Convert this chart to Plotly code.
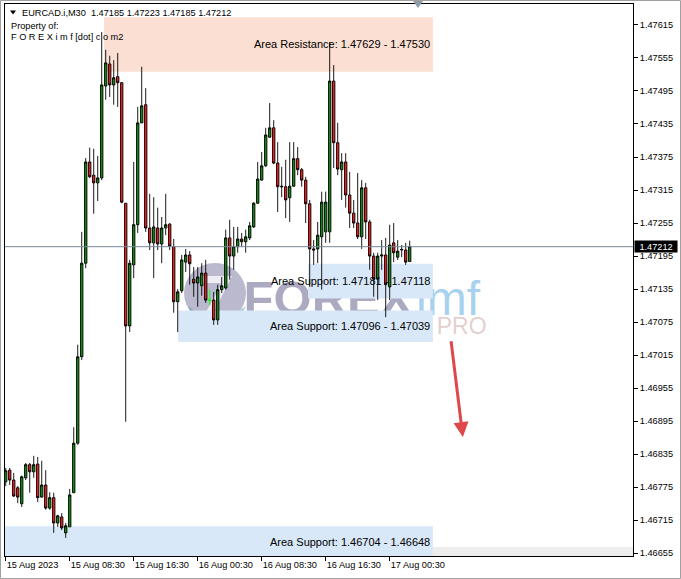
import plotly.graph_objects as go

# ---------------- data ----------------
symbol = "EURCAD.i,M30"

opens = [1.46785, 1.46806, 1.46788, 1.46774, 1.46745, 1.46792, 1.46816, 1.46803, 1.46817, 1.46757,
         1.46779, 1.46737, 1.46756, 1.46710, 1.46721, 1.46692, 1.46703, 1.46765, 1.46855, 1.47012,
         1.47182, 1.47366, 1.47342, 1.47328, 1.47337, 1.47504, 1.47544, 1.47506, 1.47521, 1.47510,
         1.47291, 1.47068, 1.47179, 1.47252, 1.47437, 1.47470, 1.47246, 1.47219, 1.47246, 1.47217,
         1.47246, 1.47253, 1.47212, 1.47112, 1.47132, 1.47184, 1.47197, 1.47153, 1.47146, 1.47141,
         1.47164, 1.47115, 1.47115, 1.47079, 1.47134, 1.47137, 1.47228, 1.47195, 1.47212, 1.47226,
         1.47221, 1.47228, 1.47248, 1.47291, 1.47333, 1.47359, 1.47411, 1.47428, 1.47364, 1.47322,
         1.47321, 1.47301, 1.47322, 1.47372, 1.47352, 1.47333, 1.47290, 1.47208, 1.47208, 1.47230,
         1.47239, 1.47239, 1.47513, 1.47401, 1.47352, 1.47366, 1.47306, 1.47273, 1.47255, 1.47230,
         1.47319, 1.47257, 1.47195, 1.47153, 1.47195, 1.47197, 1.47139, 1.47219, 1.47193, 1.47206,
         1.47206, 1.47185]
highs = [1.46810, 1.46810, 1.46801, 1.46777, 1.46796, 1.46819, 1.46819, 1.46832, 1.46830, 1.46823,
         1.46806, 1.46766, 1.46765, 1.46725, 1.46728, 1.46710, 1.46772, 1.46884, 1.47034, 1.47239,
         1.47373, 1.47392, 1.47390, 1.47377, 1.47602, 1.47570, 1.47559, 1.47551, 1.47564, 1.47511,
         1.47291, 1.47188, 1.47366, 1.47466, 1.47539, 1.47500, 1.47308, 1.47302, 1.47283, 1.47266,
         1.47308, 1.47255, 1.47226, 1.47135, 1.47197, 1.47208, 1.47204, 1.47175, 1.47175, 1.47182,
         1.47188, 1.47134, 1.47130, 1.47143, 1.47157, 1.47243, 1.47261, 1.47248, 1.47248, 1.47237,
         1.47243, 1.47257, 1.47293, 1.47366, 1.47384, 1.47428, 1.47473, 1.47442, 1.47402, 1.47357,
         1.47370, 1.47402, 1.47402, 1.47393, 1.47355, 1.47339, 1.47297, 1.47224, 1.47257, 1.47312,
         1.47312, 1.47584, 1.47542, 1.47437, 1.47382, 1.47382, 1.47348, 1.47297, 1.47346, 1.47333,
         1.47328, 1.47261, 1.47201, 1.47201, 1.47224, 1.47228, 1.47252, 1.47255, 1.47224, 1.47215,
         1.47219, 1.47223]
lows = [1.46777, 1.46779, 1.46757, 1.46746, 1.46739, 1.46788, 1.46765, 1.46792, 1.46748, 1.46756,
        1.46734, 1.46734, 1.46692, 1.46703, 1.46697, 1.46683, 1.46703, 1.46765, 1.46852, 1.47006,
        1.47173, 1.47337, 1.47272, 1.47295, 1.47333, 1.47479, 1.47484, 1.47470, 1.47466, 1.47291,
        1.46894, 1.47057, 1.47155, 1.47237, 1.47437, 1.47239, 1.47206, 1.47155, 1.47206, 1.47182,
        1.47233, 1.47206, 1.47092, 1.47057, 1.47128, 1.47166, 1.47143, 1.47121, 1.47103, 1.47123,
        1.47110, 1.47106, 1.47070, 1.47070, 1.47128, 1.47134, 1.47152, 1.47170, 1.47201, 1.47212,
        1.47201, 1.47224, 1.47246, 1.47290, 1.47332, 1.47357, 1.47410, 1.47362, 1.47275, 1.47302,
        1.47264, 1.47257, 1.47321, 1.47342, 1.47321, 1.47255, 1.47139, 1.47179, 1.47182, 1.47134,
        1.47219, 1.47219, 1.47355, 1.47342, 1.47297, 1.47283, 1.47246, 1.47246, 1.47226, 1.47208,
        1.47226, 1.47170, 1.47121, 1.47115, 1.47170, 1.47084, 1.47115, 1.47184, 1.47188, 1.47193,
        1.47179, 1.47185]
closes = [1.46805, 1.46788, 1.46759, 1.46757, 1.46794, 1.46816, 1.46803, 1.46816, 1.46756, 1.46779,
          1.46737, 1.46756, 1.46710, 1.46723, 1.46701, 1.46705, 1.46761, 1.46855, 1.47012, 1.47182,
          1.47366, 1.47339, 1.47328, 1.47337, 1.47506, 1.47546, 1.47506, 1.47519, 1.47510, 1.47293,
          1.47068, 1.47182, 1.47252, 1.47437, 1.47468, 1.47246, 1.47219, 1.47248, 1.47217, 1.47246,
          1.47252, 1.47213, 1.47112, 1.47130, 1.47188, 1.47197, 1.47181, 1.47146, 1.47157, 1.47164,
          1.47115, 1.47115, 1.47079, 1.47134, 1.47141, 1.47228, 1.47195, 1.47212, 1.47226, 1.47221,
          1.47230, 1.47250, 1.47291, 1.47335, 1.47359, 1.47415, 1.47428, 1.47364, 1.47321, 1.47321,
          1.47297, 1.47322, 1.47372, 1.47352, 1.47333, 1.47290, 1.47208, 1.47206, 1.47233, 1.47293,
          1.47293, 1.47513, 1.47401, 1.47353, 1.47366, 1.47306, 1.47273, 1.47255, 1.47230, 1.47319,
          1.47257, 1.47195, 1.47153, 1.47195, 1.47197, 1.47143, 1.47215, 1.47201, 1.47204, 1.47207,
          1.47184, 1.47212]

tick_bars = [0, 16, 32, 48, 64, 80, 96]
tick_labels = ["15 Aug 2023", "15 Aug 08:30", "15 Aug 16:30", "16 Aug 00:30",
               "16 Aug 08:30", "16 Aug 16:30", "17 Aug 00:30"]

price_ticks = [1.46655, 1.46715, 1.46775, 1.46835, 1.46895, 1.46955, 1.47015, 1.47075, 1.47135,
               1.47195, 1.47255, 1.47315, 1.47375, 1.47435, 1.47495, 1.47555, 1.47615]

zone_names = ["Area Resistance", "Area Support", "Area Support", "Area Support"]
zone_high = [1.47629, 1.47181, 1.47096, 1.46704]
zone_low = [1.47530, 1.47118, 1.47039, 1.46648]

bid_price = 1.47212

# ---------------- geometry / style ----------------
W, H = 681, 579
PL, PR, PT, PB = 5, 633, 4, 556


def px_x(px):
    return (px - PL) / (PR - PL)


def px_y(py):
    return 1 - (py - PT) / (PB - PT)


X_RANGE = [-0.18, 156.83]
Y_RANGE = [1.46650, 1.47653]
zone_start = [24.6, 75.6, 43.1, -1.0]
zone_end = 106.8
zone_fill = ["#FBDFD2", "#D9E8F8", "#D9E8F8", "#D9E8F8"]
FONT = "Liberation Sans, Arial, sans-serif"
UI = 9.2

bars = list(range(len(opens)))
doji = [i for i in bars if opens[i] == closes[i]]
body = [i for i in bars if i not in doji]


def pick(arr, idx):
    return [arr[i] for i in idx]


fig = go.Figure()
fig.add_trace(go.Candlestick(
    x=pick(bars, body), open=pick(opens, body), high=pick(highs, body),
    low=pick(lows, body), close=pick(closes, body),
    increasing=dict(fillcolor="#0C8A0C", line=dict(color="black", width=0.9)),
    decreasing=dict(fillcolor="#F01818", line=dict(color="black", width=0.9)),
    whiskerwidth=0, showlegend=False, hoverinfo="skip"))
fig.add_trace(go.Candlestick(
    x=pick(bars, doji), open=pick(opens, doji), high=pick(highs, doji),
    low=pick(lows, doji), close=pick(closes, doji),
    increasing=dict(fillcolor="#00FF00", line=dict(color="#00FF00", width=1)),
    decreasing=dict(fillcolor="#00FF00", line=dict(color="#00FF00", width=1)),
    whiskerwidth=0, showlegend=False, hoverinfo="skip"))

shapes = []
# zones
for k in range(len(zone_names)):
    shapes.append(dict(type="rect", xref="x", yref="y", x0=zone_start[k], x1=zone_end,
                       y0=zone_low[k], y1=zone_high[k], fillcolor=zone_fill[k],
                       line=dict(width=0), layer="below"))
# grey strip bottom right
shapes.append(dict(type="rect", xref="paper", yref="paper", x0=px_x(433), x1=px_x(633),
                   y0=px_y(556), y1=px_y(547), fillcolor="#EDEDED", line=dict(width=0),
                   layer="below"))
# watermark (below candles)
shapes.append(dict(type="circle", xref="paper", yref="paper", x0=px_x(184), x1=px_x(246),
                   y0=px_y(323), y1=px_y(263), fillcolor="rgba(120,116,158,0.50)",
                   line=dict(width=0), layer="below"))
shapes.append(dict(type="path", xref="paper", yref="paper",
                   path=f"M {px_x(200)},{px_y(276)} L {px_x(232)},{px_y(276)} L {px_x(214)},{px_y(312)} "
                        f"L {px_x(206)},{px_y(312)} L {px_x(222)},{px_y(283)} L {px_x(200)},{px_y(283)} Z",
                   fillcolor="rgba(255,255,255,0.75)", line=dict(width=0), layer="below"))
shapes.append(dict(type="path", xref="paper", yref="paper",
                   path=f"M {px_x(188)},{px_y(306)} Q {px_x(215)},{px_y(330)} {px_x(246)},{px_y(306)} "
                        f"L {px_x(240)},{px_y(318)} Q {px_x(215)},{px_y(334)} {px_x(192)},{px_y(316)} Z",
                   fillcolor="rgba(70,150,150,0.45)", line=dict(width=0), layer="below"))
shapes.append(dict(type="rect", xref="paper", yref="paper", x0=px_x(243), x1=px_x(413),
                   y0=px_y(318), y1=px_y(268), fillcolor="rgba(0,0,0,0)", line=dict(width=0),
                   layer="below",
                   label=dict(text="<b>FOREX</b>", textposition="middle center",
                              font=dict(family=FONT, size=49, color="rgba(112,108,148,0.58)"))))
shapes.append(dict(type="rect", xref="paper", yref="paper", x0=px_x(413), x1=px_x(490),
                   y0=px_y(318), y1=px_y(268), fillcolor="rgba(0,0,0,0)", line=dict(width=0),
                   layer="below",
                   label=dict(text="imf", textposition="middle left", padding=0,
                              font=dict(family=FONT, size=48, color="rgba(90,170,225,0.55)"))))
shapes.append(dict(type="rect", xref="paper", yref="paper", x0=px_x(252), x1=px_x(486),
                   y0=px_y(334), y1=px_y(314), fillcolor="rgba(0,0,0,0)", line=dict(width=0),
                   layer="below",
                   label=dict(text="TRADING LIKE A PRO", textposition="middle center",
                              font=dict(family=FONT, size=23, color="rgba(205,165,165,0.55)"))))
# bid line
shapes.append(dict(type="line", xref="paper", yref="y", x0=0, x1=1, y0=bid_price, y1=bid_price,
                   line=dict(color="#778899", width=1)))
# chart-shift marker and header triangle
shapes.append(dict(type="path", xref="paper", yref="paper",
                   path=f"M {px_x(413)},{px_y(1)} L {px_x(423)},{px_y(1)} L {px_x(418)},{px_y(8)} Z",
                   fillcolor="#8E9CAA", line=dict(width=0)))
shapes.append(dict(type="path", xref="paper", yref="paper",
                   path=f"M {px_x(10)},{px_y(10.5)} L {px_x(16)},{px_y(10.5)} L {px_x(13)},{px_y(14.5)} Z",
                   fillcolor="black", line=dict(width=0)))
# window frame
shapes.append(dict(type="rect", xref="paper", yref="paper", x0=px_x(0.5), x1=px_x(680.5),
                   y0=px_y(578.5), y1=px_y(0.5), line=dict(color="#A0A0A0", width=1),
                   fillcolor="rgba(0,0,0,0)"))

annotations = []
for k in range(len(zone_names)):
    annotations.append(dict(
        xref="paper", yref="y", x=px_x(432), y=(zone_high[k] + zone_low[k]) / 2,
        xanchor="right", yanchor="middle", showarrow=False,
        text=f"{zone_names[k]}: {zone_high[k]:.5f} - {zone_low[k]:.5f}",
        font=dict(family=FONT, size=11, color="black")))

annotations.append(dict(
    xref="paper", yref="paper", x=px_x(20), y=px_y(12.7), xanchor="left", yanchor="middle",
    showarrow=False,
    text=f"{symbol}\u00a0\u00a0{opens[-1]:.5f} {highs[-1]:.5f} {lows[-1]:.5f} {closes[-1]:.5f}",
    font=dict(family=FONT, size=UI, color="black")))
annotations.append(dict(
    xref="paper", yref="paper", x=px_x(9), y=px_y(25.5), xanchor="left", yanchor="middle",
    showarrow=False, text="Property of:", font=dict(family=FONT, size=UI, color="black")))
annotations.append(dict(
    xref="paper", yref="paper", x=px_x(9), y=px_y(37.3), xanchor="left", yanchor="middle",
    showarrow=False, text="F O R E X i m f [dot] c o m2",
    font=dict(family=FONT, size=UI, color="black")))
# bid price label on the axis
annotations.append(dict(
    xref="paper", yref="y", x=1, y=bid_price, xanchor="left", yanchor="middle",
    xshift=1, showarrow=False, text=f"{bid_price:.5f}", bgcolor="black",
    width=42, height=11, align="center", borderpad=0,
    font=dict(family=FONT, size=UI, color="white")))
# red arrow
annotations.append(dict(
    xref="x", yref="y", axref="x", ayref="y",
    x=114.3, y=1.46866, ax=111.3, ay=1.47043,
    showarrow=True, arrowhead=2, arrowsize=1, arrowwidth=3, arrowcolor="#E0474B", text=""))

fig.update_layout(
    width=W, height=H,
    margin=dict(l=PL, r=W - PR, t=PT, b=H - PB, pad=0, autoexpand=False),
    paper_bgcolor="white", plot_bgcolor="white",
    shapes=shapes, annotations=annotations, showlegend=False,
    boxgap=0.15,
    xaxis=dict(range=X_RANGE, rangeslider=dict(visible=False), showgrid=False, zeroline=False,
               showline=True, linecolor="black", linewidth=1, mirror=True,
               ticks="outside", ticklen=4, tickcolor="black", tickwidth=1,
               tickvals=tick_bars, ticktext=tick_labels, ticklabelposition="outside right",
               tickfont=dict(family=FONT, size=UI, color="black"), fixedrange=True,
               automargin=False),
    yaxis=dict(range=Y_RANGE, side="right", showgrid=False, zeroline=False,
               showline=True, linecolor="black", linewidth=1, mirror=True,
               ticks="outside", ticklen=4, tickcolor="black", tickwidth=1,
               tickvals=price_ticks, ticktext=[f"{v:.5f}" for v in price_ticks],
               tickfont=dict(family=FONT, size=UI, color="black"), fixedrange=True,
               automargin=False),
)

fig.write_html("out.html", config={"displayModeBar": False},
               post_script="document.body.style.margin='0px';document.body.style.overflow='hidden';")
